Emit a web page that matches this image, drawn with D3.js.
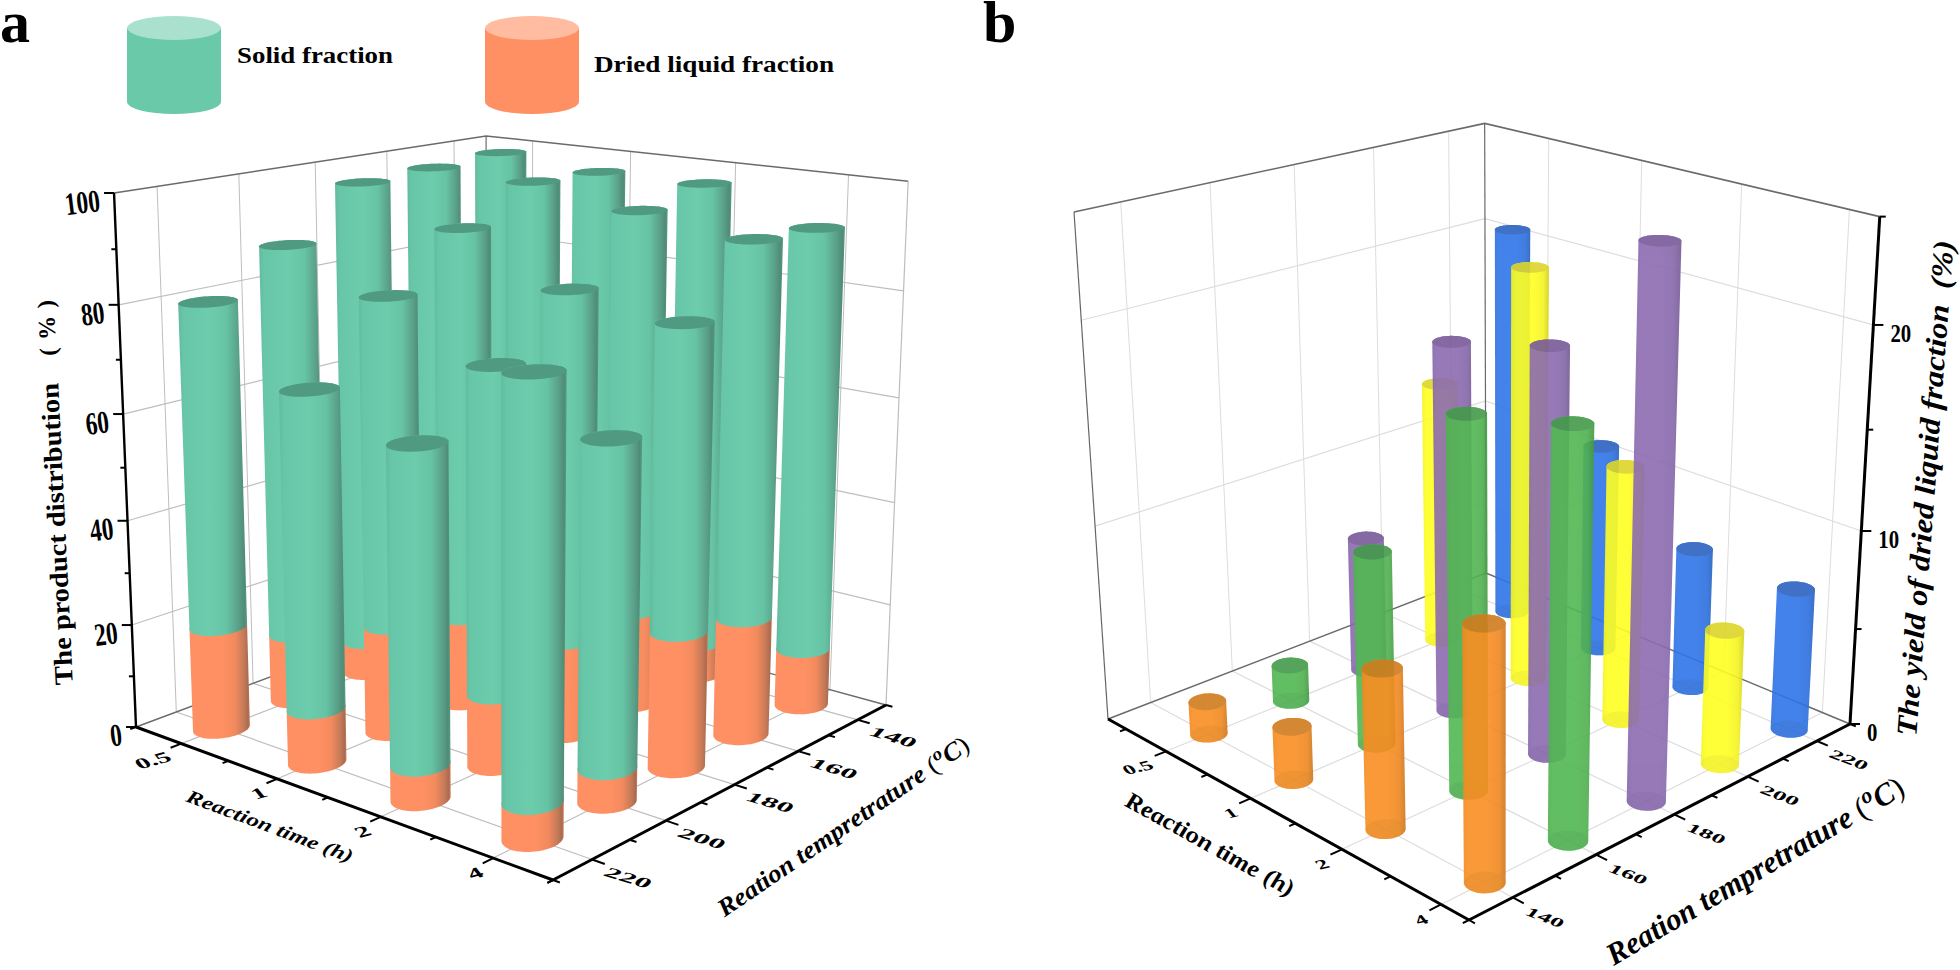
<!DOCTYPE html>
<html><head><meta charset="utf-8"><style>
html,body{margin:0;background:#fff;overflow:hidden}
text{font-family:"Liberation Serif",serif;font-weight:bold;fill:#000}
</style></head><body>
<svg id="c" width="1960" height="970"></svg>
<script src="https://cdnjs.cloudflare.com/ajax/libs/d3/7.8.5/d3.min.js"></script>
<script>
// ---- data ----
const times = ["0.5","1","2","4"];
const temps = ["140","160","180","200","220"];
// panel a, rows = temperature 140..220, columns = time 0.5,1,2,4
const liquidA140 = [1.2, 2.2, 6.4, 11.2];
const liquidA160 = [1.4, 9.4, 18.5, 22.6];
const liquidA180 = [6.4, 17.0, 18.0, 25.3];
const liquidA200 = [13.2, 20.5, 13.4, 6.1];
const liquidA220 = [19.9, 10.2, 6.3, 6.5];
const solidA140 = [97.5, 94.9, 90.8, 80.3];
const solidA160 = [96.5, 88.1, 76.1, 69.5];
const solidA180 = [90.9, 74.3, 65.1, 55.2];
const solidA200 = [74.9, 61.3, 59.6, 58.2];
const solidA220 = [60.7, 58.3, 56.9, 72.6];
// panel b
const yieldB140 = [1.7, 2.7, 7.8, 12.0];
const yieldB160 = [1.9, 9.8, 18.1, 19.3];
const yieldB180 = [7.1, 18.7, 20.0, 26.0];
const yieldB200 = [13.9, 21.2, 13.0, 6.8];
const yieldB220 = [20.8, 11.0, 7.4, 7.3];
const liquidA = [liquidA140, liquidA160, liquidA180, liquidA200, liquidA220];
const solidA = [solidA140, solidA160, solidA180, solidA200, solidA220];
const yieldB = [yieldB140, yieldB160, yieldB180, yieldB200, yieldB220];
const seriesColorsB = ["#F98E22", "#52B852", "#8C6BB1", "#FFFF22", "#2F75E8"];
const seriesCapsB = ["#D07C1E", "#449A4B", "#77599A", "#DDD52A", "#2C62C0"];

const svg = d3.select("#c");
const defs = svg.append("defs");
function grad(id, stops) {
  const g = defs.append("linearGradient").attr("id", id).attr("x1", 0).attr("x2", 1).attr("y1", 0).attr("y2", 0);
  stops.forEach(s => g.append("stop").attr("offset", s[0]).attr("stop-color", s[1]));
}
grad("gS", [[0,"#62BB9E"],[.08,"#68C6A8"],[.45,"#6CCCAC"],[.7,"#66C4A5"],[.88,"#5A9F88"],[.96,"#4F8C78"],[1,"#559C85"]]);
grad("gO", [[0,"#FB9064"],[.08,"#FF9063"],[.55,"#FF9063"],[.75,"#F28A5E"],[.9,"#C57A58"],[.97,"#A96B50"],[1,"#D08060"]]);
seriesColorsB.forEach((c, i) => {
  const d = d3.color(c).darker(.55).formatHex(), m = d3.color(c).darker(.12).formatHex();
  grad("gB" + i, [[0, m],[.12, c],[.6, c],[.85, m],[1, d]]);
});

function camera(L, F, R, B, vp, topY) {
  const dx1=F[0]-R[0],dy1=F[1]-R[1],dx2=B[0]-R[0],dy2=B[1]-R[1],
        sx=L[0]-F[0]+R[0]-B[0],sy=L[1]-F[1]+R[1]-B[1],
        det=dx1*dy2-dx2*dy1,g=(sx*dy2-dx2*sy)/det,h=(dx1*sy-sx*dy1)/det,
        a=F[0]-L[0]+g*F[0],b=B[0]-L[0]+h*B[0],d=F[1]-L[1]+g*F[1],e=B[1]-L[1]+h*B[1],
        s=(topY-L[1])/(vp[1]-topY);
  return (u,v,w=0)=>{const W=g*u+h*v+1+w*s;
    return [(a*u+b*v+L[0]+w*s*vp[0])/W,(d*u+e*v+L[1]+w*s*vp[1])/W];};
}
const line = d3.line();
function seg(g, p0, p1, stroke, width) {
  g.append("path").attr("d", line([p0, p1])).attr("fill","none").attr("stroke",stroke).attr("stroke-width",width);
}
function circlePts(P, uc, vc, ru, rv, w) {
  return d3.range(72).map(k => { const t = k/72*2*Math.PI; return P(uc+ru*Math.cos(t), vc+rv*Math.sin(t), w); });
}
function closed(pts){ return d3.line()(pts)+"Z"; }
function hull(P,uc,vc,ru,rv,w0,w1){ return closed(d3.polygonHull(circlePts(P,uc,vc,ru,rv,w0).concat(circlePts(P,uc,vc,ru,rv,w1)))); }
function matText(g, x, y, str, rx, ry, dx, dy, anchor, size, extra) {
  const t = g.append("text").attr("transform",`matrix(${rx},${ry},${dx},${dy},${x},${y})`)
    .attr("text-anchor",anchor).attr("font-size",size).attr("dominant-baseline","central").text(str);
  if (extra) extra(t);
  return t;
}

function frame(g, P, uBand, vBand, yS, yMajor, yMinor, o) {
  const grid=o.grid, edge="#6A6A6A";
  const uc=d=>uBand(d)+uBand.bandwidth()/2, vc=d=>vBand(d)+vBand.bandwidth()/2;
  uBand.domain().forEach(d=>seg(g,P(uc(d),1,0),P(uc(d),1,1),grid,1));
  vBand.domain().forEach(d=>seg(g,P(0,vc(d),0),P(0,vc(d),1),grid,1));
  yMajor.forEach(t=>{const w=yS(t); if(w<=0||w>=1) return;
    g.append("path").attr("d",line([P(0,0,w),P(0,1,w),P(1,1,w)])).attr("fill","none").attr("stroke",grid).attr("stroke-width",1.2);});
  uBand.domain().forEach(d=>seg(g,P(uc(d),0,0),P(uc(d),1,0),grid,1.2));
  vBand.domain().forEach(d=>seg(g,P(0,vc(d),0),P(1,vc(d),0),grid,1.2));
  g.append("path").attr("d",line([P(0,0,1),P(0,1,1),P(1,1,1)])).attr("fill","none").attr("stroke",edge).attr("stroke-width",1.6);
  g.append("path").attr("d",line([P(0,0,0),P(0,1,0),P(1,1,0)])).attr("fill","none").attr("stroke",edge).attr("stroke-width",1.4);
  seg(g,P(0,1,0),P(0,1,1),edge,1.2);
  const ax = o.zAtRight ? [1,1] : [0,0], far = o.zAtRight ? [0,0] : [1,1];
  seg(g,P(far[0],far[1],0),P(far[0],far[1],1),o.farColor,o.farWidth);
  seg(g,P(ax[0],ax[1],0),P(ax[0],ax[1],1),"#000",o.zWidth);
  const dir = o.zAtRight ? 1 : -1;
  yMajor.forEach(t=>{const p=P(ax[0],ax[1],yS(t)); seg(g,p,[p[0]+dir*o.majorLen,p[1]],"#000",2);
    o.yLabel(g,p,t);});
  yMinor.forEach(t=>{const p=P(ax[0],ax[1],yS(t)); seg(g,p,[p[0]+dir*o.minorLen,p[1]],"#000",2);});
  seg(g,P(0,0,0),P(1,0,0),"#000",3);
  seg(g,P(1,0,0),P(1,1,0),"#000",3);
  const n=uBand.domain().length, u0=uBand.range()[0], stepU=uBand.step();
  d3.range(0,n+1).map(i=>u0+i*stepU).filter(u=>u<=1).concat([1]).forEach(u=>seg(g,P(u,0,0),P(u,-o.tickMin,0),"#000",2));
  uBand.domain().forEach(d=>{const p=P(uc(d),-o.tickMaj,0); seg(g,P(uc(d),0,0),p,"#000",2); o.uLabel(g,p,d);});
  const m=vBand.domain().length;
  d3.range(0,m+1).forEach(i=>{const v=i/m; seg(g,P(1,v,0),P(1+o.tickMin,v,0),"#000",2);});
  vBand.domain().forEach(d=>{const p=P(1+o.tickMaj,vc(d),0); seg(g,P(1,vc(d),0),p,"#000",2); o.vLabel(g,p,d);});
}
function tempTitle(g, x, y, angle, size, sx) {
  const t = g.append("text").attr("transform",`translate(${x},${y}) rotate(${angle}) scale(${sx},1)`)
    .attr("text-anchor","middle").attr("font-size",size).attr("dominant-baseline","central").attr("font-style","italic");
  t.append("tspan").text("Reation tempretrature ");
  t.append("tspan").attr("font-weight","normal").attr("font-style","normal").text("(");
  t.append("tspan").attr("font-size",size*.72).attr("dy",-size*.3).text("o");
  t.append("tspan").attr("dy",size*.3).text("C");
  t.append("tspan").attr("font-weight","normal").attr("font-style","normal").text(")");
}

// ---------- panel a ----------
const gA = svg.append("g");
const PA = camera([136,727],[553,880],[886,705],[487,596],[505,9700],193);
const uA = d3.scaleBand(times,[0,1]), vA = d3.scaleBand(temps.slice().reverse(),[0,1]), zA = d3.scaleLinear([0,100],[0,1]);
frame(gA, PA, uA, vA, zA, d3.range(0,101,20), d3.range(10,100,20), {
  grid:"#BEBEBE", zAtRight:false, farColor:"#BDBDBD", farWidth:1.2, zWidth:2.4, majorLen:10, minorLen:5, tickMaj:.026, tickMin:.014,
  yLabel:(g,p,t)=>g.append("text").attr("transform",`translate(${p[0]-13},${p[1]+18}) rotate(-7) scale(.73,1)`).attr("text-anchor","end").attr("font-size",32).text(t),
  uLabel:(g,p,d)=>matText(g,p[0]-1,p[1]+8,d,1.35,-.36,.55,.68,"end",20),
  vLabel:(g,p,d)=>matText(g,p[0]+1,p[1]+7,d,1.5,.45,-.55,.62,"start",20)
});
const barsA = d3.cross(d3.range(temps.length), d3.range(times.length)).map(([j,i])=>{
  const u=uA(times[i])+uA.bandwidth()/2, v=vA(temps[j])+vA.bandwidth()/2;
  return {u,v,liq:liquidA[j][i],sol:solidA[j][i],depth:PA(u,v,0)[1]};
}).sort((a,b)=>a.depth-b.depth);
const ruA=.047, rvA=.057;
const barG = gA.selectAll("g.bar").data(barsA).join("g").attr("class","bar");
barG.append("path").attr("d",d=>hull(PA,d.u,d.v,ruA,rvA,0,zA(d.liq))).attr("fill","url(#gO)");
barG.append("path").attr("d",d=>hull(PA,d.u,d.v,ruA,rvA,zA(d.liq),zA(d.liq+d.sol))).attr("fill","url(#gS)");
barG.append("path").attr("d",d=>closed(circlePts(PA,d.u,d.v,ruA,rvA,zA(d.liq+d.sol)))).attr("fill","#4F9A80");

gA.append("text").attr("transform","translate(57,534) rotate(-92.8)").attr("text-anchor","middle").attr("font-size",26).attr("dominant-baseline","central")
  .attr("textLength",302).attr("lengthAdjust","spacingAndGlyphs").text("The product distribution");
gA.append("text").attr("transform","translate(47,328) rotate(-92.8)").attr("text-anchor","middle").attr("font-size",24).attr("dominant-baseline","central")
  .attr("textLength",56).attr("lengthAdjust","spacing").text("( % )");
matText(gA,270,826,"Reaction time (h)",.937,.35,-.42,.9,"middle",19,t=>t.attr("font-style","italic").attr("textLength",176).attr("lengthAdjust","spacingAndGlyphs"));
tempTitle(gA,843,826,-34.4,25,1.08);

// legend
const legend = [["Solid fraction","#69C9A9","#A9E1CE",127,237,63,156],["Dried liquid fraction","#FF9063","#FFBCA1",485,594,72,240]];
legend.forEach(l=>{
  const [name,side,top,x0,tx,ty,tl]=l, rx=47, ry=12, cx=x0+rx;
  gA.append("path").attr("d",`M${x0},28 V102 A${rx},${ry} 0 0 0 ${x0+2*rx},102 V28 Z`).attr("fill",side);
  gA.append("ellipse").attr("cx",cx).attr("cy",28).attr("rx",rx).attr("ry",ry).attr("fill",top);
  gA.append("text").attr("x",tx).attr("y",ty).attr("font-size",24).attr("textLength",tl).attr("lengthAdjust","spacingAndGlyphs").text(name);
});
svg.append("text").attr("x",0).attr("y",42).attr("font-size",60).text("a");
svg.append("text").attr("x",983).attr("y",42).attr("font-size",60).text("b");

// ---------- panel b ----------
const gB = svg.append("g");
const PB = camera([1108,719],[1469,920],[1850,724],[1486,573],[1504,6625],212);
const uB = d3.scaleBand(times,[.058,1.058]), vB = d3.scaleBand(temps,[0,1]), zB = d3.scaleLinear([0,25],[0,1]);
frame(gB, PB, uB, vB, zB, [0,10,20], [5,15,25], {
  grid:"#DDDDDD", zAtRight:true, farColor:"#666", farWidth:1.2, zWidth:3, majorLen:10, minorLen:6, tickMaj:.026, tickMin:.014,
  yLabel:(g,p,t)=>g.append("text").attr("transform",`translate(${p[0]+17},${p[1]+17}) scale(.8,1)`).attr("font-size",26).text(t),
  uLabel:(g,p,d)=>matText(g,p[0]-3,p[1]+8,d,1.25,-.3,.55,.68,"end",18),
  vLabel:(g,p,d)=>matText(g,p[0]+3,p[1]+7,d,1.35,.52,-.5,.62,"start",18)
});
const barsB = d3.cross(d3.range(temps.length), d3.range(times.length)).map(([j,i])=>{
  const u=uB(times[i])+uB.bandwidth()/2, v=vB(temps[j])+vB.bandwidth()/2;
  return {u,v,j,val:yieldB[j][i],depth:PB(u,v,0)[1]};
}).sort((a,b)=>a.depth-b.depth);
const rB=.035;
const barH = gB.selectAll("g.bar").data(barsB).join("g").attr("class","bar").attr("opacity",.9);
barH.append("path").attr("d",d=>hull(PB,d.u,d.v,rB,rB,0,zB(d.val))).attr("fill",d=>`url(#gB${d.j})`);
barH.append("path").attr("d",d=>closed(circlePts(PB,d.u,d.v,rB,rB,0))).attr("fill",d=>seriesCapsB[d.j]).attr("opacity",.28);
barH.append("path").attr("d",d=>closed(circlePts(PB,d.u,d.v,rB,rB,zB(d.val)))).attr("fill",d=>seriesCapsB[d.j]);

gB.append("text").attr("transform","translate(1925,488) rotate(-85.7)").attr("text-anchor","middle").attr("font-size",29).attr("font-style","italic").attr("dominant-baseline","central")
  .attr("textLength",497).attr("lengthAdjust","spacingAndGlyphs").text("The yield of dried liquid fraction\u00A0\u00A0(%)");
matText(gB,1210,844,"Reaction time (h)",.875,.485,-.35,.93,"middle",24,t=>t.attr("font-style","italic").attr("textLength",190).attr("lengthAdjust","spacingAndGlyphs"));
tempTitle(gB,1755,871,-30.5,31,.99);
</script></body></html>
